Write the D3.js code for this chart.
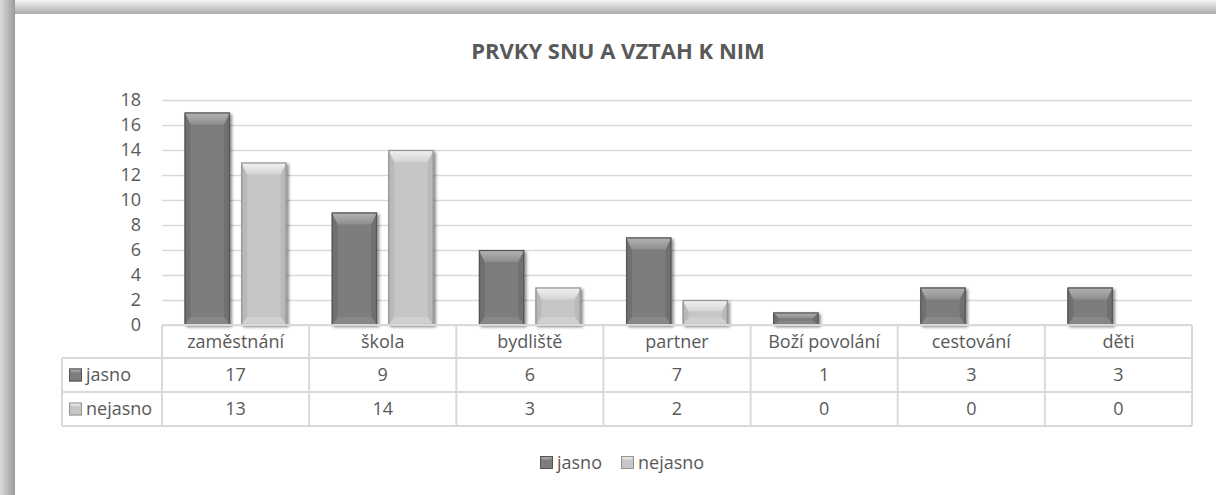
<!DOCTYPE html>
<html>
<head>
<meta charset="utf-8">
<script src="https://cdn.jsdelivr.net/npm/d3@7"></script>
<style>
  html, body { margin: 0; padding: 0; background: #ffffff; }
  svg { display: block; font-family: "Open Sans", "Noto Sans", sans-serif; }
</style>
</head>
<body>
<svg id="chart" width="1216" height="495"></svg>
<script>
// Chart data
const title = "PRVKY SNU A VZTAH K NIM";
const categories = ["zaměstnání", "škola", "bydliště", "partner", "Boží povolání", "cestování", "děti"];
const seriesNames = ["jasno", "nejasno"];
const jasno = [17, 9, 6, 7, 1, 3, 3];
const nejasno = [13, 14, 3, 2, 0, 0, 0];
const yTickValues = [0, 2, 4, 6, 8, 10, 12, 14, 16, 18];

const seriesValues = { jasno: jasno, nejasno: nejasno };

// Bar styling per series: body, bevel highlight, bevel shade, outline
const style = {
  jasno:   { body: "#7d7d7d", top1: "#b4b4b4", top2: "#8e8e8e", side: "#707070", bottom: "#888888", stroke: "#555555" },
  nejasno: { body: "#c6c6c6", top1: "#f2f2f2", top2: "#d4d4d4", side: "#b9b9b9", bottom: "#d0d0d0", stroke: "#939393" }
};

const textColor = "#595959";
const gridColor = "#d9d9d9";

const svg = d3.select("#chart");
const W = 1216, H = 495;

const defs = svg.append("defs");

// Frame shading along the top and left edges
const gLeft = defs.append("linearGradient").attr("id", "shadeLeft").attr("x1", "0").attr("x2", "1").attr("y1", "0").attr("y2", "0");
gLeft.append("stop").attr("offset", "0%").attr("stop-color", "#dadada");
gLeft.append("stop").attr("offset", "100%").attr("stop-color", "#9b9b9b");
const gTop = defs.append("linearGradient").attr("id", "shadeTop").attr("x1", "0").attr("x2", "0").attr("y1", "0").attr("y2", "1");
gTop.append("stop").attr("offset", "0%").attr("stop-color", "#f6f6f6");
gTop.append("stop").attr("offset", "100%").attr("stop-color", "#a9a9a9");

// Top bevel gradients
seriesNames.forEach(s => {
  const g = defs.append("linearGradient").attr("id", "bevel-" + s)
    .attr("x1", "0").attr("x2", "0").attr("y1", "0").attr("y2", "1");
  g.append("stop").attr("offset", "0%").attr("stop-color", style[s].top1);
  g.append("stop").attr("offset", "100%").attr("stop-color", style[s].top2);
});

// Soft shadow under bars
const f = defs.append("filter").attr("id", "barShadow").attr("x", "-20%").attr("y", "-20%").attr("width", "150%").attr("height", "150%");
f.append("feGaussianBlur").attr("in", "SourceAlpha").attr("stdDeviation", 1.6).attr("result", "blur");
f.append("feOffset").attr("in", "blur").attr("dx", 1.5).attr("dy", 1.5).attr("result", "off");
f.append("feComponentTransfer").attr("in", "off").attr("result", "shadow")
  .append("feFuncA").attr("type", "linear").attr("slope", 0.45);
const fm = f.append("feMerge");
fm.append("feMergeNode").attr("in", "shadow");
fm.append("feMergeNode").attr("in", "SourceGraphic");

svg.append("rect").attr("width", W).attr("height", H).attr("fill", "#ffffff");
svg.append("rect").attr("x", 0).attr("y", 0).attr("width", W).attr("height", 14).attr("fill", "url(#shadeTop)");
svg.append("rect").attr("x", 0).attr("y", 0).attr("width", 15).attr("height", H).attr("fill", "url(#shadeLeft)");

// Title
svg.append("text")
  .attr("x", 618).attr("y", 59)
  .attr("text-anchor", "middle")
  .attr("font-size", 22).attr("font-weight", 700)
  .attr("fill", textColor)
  .text(title);

// Scales
const plotLeft = 162, plotRight = 1192, plotTop = 100, plotBottom = 325;
const x = d3.scaleBand().domain(categories).range([plotLeft, plotRight]).paddingInner(0).paddingOuter(0);
const x1 = d3.scaleBand().domain(seriesNames).range([0, x.bandwidth()]).paddingInner(0.2).paddingOuter(0.4);
const y = d3.scaleLinear().domain([0, 18]).range([plotBottom, plotTop]);

// Gridlines + y axis labels
const yAxis = d3.axisLeft(y).tickValues(yTickValues).tickSize(-(plotRight - plotLeft)).tickPadding(21);
const gy = svg.append("g").attr("transform", `translate(${plotLeft},0)`).call(yAxis);
gy.select(".domain").remove();
gy.selectAll(".tick line").attr("stroke", gridColor).attr("stroke-width", 1.5);
gy.selectAll(".tick text").attr("fill", textColor).attr("font-size", 18)
  .attr("font-family", "'Open Sans', 'Noto Sans', sans-serif");

// Bars with bevelled faces
function bevelBar(g, bx, by, bw, bh, s) {
  const st = style[s];
  const bt = Math.min(12, bh * 0.45);         // top bevel depth
  const bs = Math.min(6, bw * 0.13);          // side bevel width
  const bb = Math.min(8, bh * 0.3);           // bottom bevel depth
  const grp = g.append("g").attr("filter", "url(#barShadow)");
  grp.append("rect").attr("x", bx).attr("y", by).attr("width", bw).attr("height", bh)
    .attr("fill", st.body);
  // left & right bevel
  grp.append("polygon").attr("fill", st.side)
    .attr("points", [[bx, by], [bx + bs, by + bt], [bx + bs, by + bh - bb], [bx, by + bh]].join(" "));
  grp.append("polygon").attr("fill", st.side)
    .attr("points", [[bx + bw, by], [bx + bw - bs, by + bt], [bx + bw - bs, by + bh - bb], [bx + bw, by + bh]].join(" "));
  // bottom bevel
  grp.append("polygon").attr("fill", st.bottom)
    .attr("points", [[bx, by + bh], [bx + bs, by + bh - bb], [bx + bw - bs, by + bh - bb], [bx + bw, by + bh]].join(" "));
  // top bevel
  grp.append("polygon").attr("fill", `url(#bevel-${s})`)
    .attr("points", [[bx, by], [bx + bw, by], [bx + bw - bs, by + bt], [bx + bs, by + bt]].join(" "));
  grp.append("rect").attr("x", bx + 0.5).attr("y", by + 0.5).attr("width", bw - 1).attr("height", Math.max(0, bh - 1))
    .attr("fill", "none").attr("stroke", st.stroke).attr("stroke-width", 1.2);
}

const barsG = svg.append("g");
categories.forEach((c, i) => {
  seriesNames.forEach(s => {
    const v = seriesValues[s][i];
    if (v <= 0) return;
    const bx = x(c) + x1(s);
    const by = y(v);
    bevelBar(barsG, bx, by, x1.bandwidth(), y(0) - by, s);
  });
});

// Data table
const rowTop = plotBottom, headerH = 33, rowH = 34;
const tableLeft = 62;
const tg = svg.append("g");
const lineStyle = sel => sel.attr("stroke", gridColor).attr("stroke-width", 2);

// horizontal rules
tg.append("line").attr("x1", plotLeft).attr("x2", plotRight).attr("y1", rowTop).attr("y2", rowTop).call(lineStyle);
[rowTop + headerH, rowTop + headerH + rowH, rowTop + headerH + 2 * rowH].forEach(yy => {
  tg.append("line").attr("x1", tableLeft).attr("x2", plotRight).attr("y1", yy).attr("y2", yy).call(lineStyle);
});
// vertical rules
categories.forEach(c => {
  tg.append("line").attr("x1", x(c)).attr("x2", x(c)).attr("y1", rowTop).attr("y2", rowTop + headerH + 2 * rowH).call(lineStyle);
});
tg.append("line").attr("x1", plotRight).attr("x2", plotRight).attr("y1", rowTop).attr("y2", rowTop + headerH + 2 * rowH).call(lineStyle);
tg.append("line").attr("x1", tableLeft).attr("x2", tableLeft).attr("y1", rowTop + headerH).attr("y2", rowTop + headerH + 2 * rowH).call(lineStyle);

// category header
tg.selectAll("text.cat").data(categories).join("text")
  .attr("class", "cat")
  .attr("x", d => x(d) + x.bandwidth() / 2)
  .attr("y", rowTop + headerH / 2)
  .attr("dy", "0.35em")
  .attr("text-anchor", "middle")
  .attr("font-size", 18).attr("fill", textColor)
  .text(d => d);

// legend key drawn as a small bevelled square
function keySwatch(g, kx, ky, s) {
  const st = style[s];
  const sz = 13;
  g.append("rect").attr("x", kx).attr("y", ky).attr("width", sz).attr("height", sz).attr("fill", st.body);
  g.append("polygon").attr("fill", `url(#bevel-${s})`)
    .attr("points", [[kx, ky], [kx + sz, ky], [kx + sz - 3, ky + 4], [kx + 3, ky + 4]].join(" "));
  g.append("rect").attr("x", kx + 0.5).attr("y", ky + 0.5).attr("width", sz - 1).attr("height", sz - 1)
    .attr("fill", "none").attr("stroke", st.stroke).attr("stroke-width", 1);
}

seriesNames.forEach((s, r) => {
  const cy = rowTop + headerH + r * rowH + rowH / 2;
  keySwatch(tg, 69, cy - 6.5, s);
  tg.append("text").attr("x", 86).attr("y", cy).attr("dy", "0.35em")
    .attr("font-size", 18).attr("fill", textColor).text(s);
  tg.selectAll(null).data(seriesValues[s]).join("text")
    .attr("x", (d, i) => x(categories[i]) + x.bandwidth() / 2)
    .attr("y", cy).attr("dy", "0.35em")
    .attr("text-anchor", "middle")
    .attr("font-size", 18).attr("fill", textColor)
    .text(d => d);
});

// Legend below the table
const lg = svg.append("g");
const legendX = [540, 621];
seriesNames.forEach((s, i) => {
  keySwatch(lg, legendX[i], 456, s);
  lg.append("text").attr("x", legendX[i] + 17).attr("y", 463).attr("dy", "0.35em")
    .attr("font-size", 18).attr("fill", textColor).text(s);
});
</script>
</body>
</html>
